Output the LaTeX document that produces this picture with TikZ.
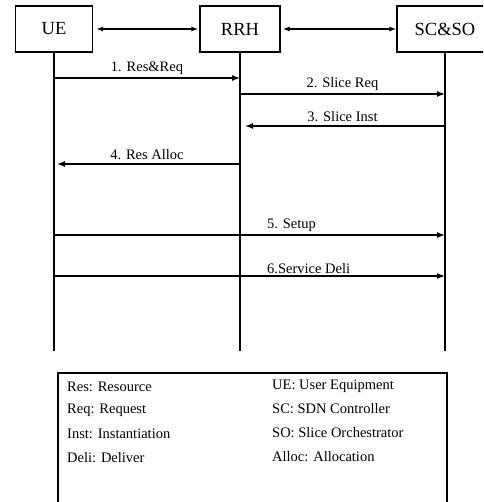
\documentclass[tikz,border=0pt]{standalone}
\usepackage{fontspec}
\setmainfont{Liberation Serif}
\usepackage{tikz}
\usetikzlibrary{arrows.meta, positioning}

\tikzset{
  entity/.style={draw, line width=1.1pt, minimum height=46pt, font=\fontsize{18.5}{20}\selectfont},
  lifeline/.style={line width=1.6pt},
  msg/.style={line width=1.4pt, -{Latex[length=8pt,width=6pt]}},
  link/.style={line width=1.4pt, {Latex[length=7pt,width=5pt]}-{Latex[length=7pt,width=5pt]}},
  lbl/.style={font=\fontsize{14.5}{16}\selectfont, inner sep=1pt},
}

\begin{document}
\begin{tikzpicture}[x=1pt, y=-1pt]
		\useasboundingbox (0,0) rectangle (483,502);
		\clip (0,0) rectangle (483,502);
		% Entidades
		\node[entity, minimum width=77pt] (ue) at (54,29) {UE};
		\node[entity, minimum width=80pt] (rrh) at (240,29) {RRH};
		\node[entity, minimum width=96pt] (scso) at (445,29) {SC\&SO};
		\draw[link, shorten <=3pt, shorten >=1pt] (ue.east) -- (rrh.west);
		\draw[link, shorten <=2pt] (rrh.east) -- (scso.west);
		% Lineas de vida
		\coordinate (fin) at (0,351);
		\draw[lifeline] (ue.south) -- (ue |- fin);
		\draw[lifeline] (rrh.south) -- (rrh |- fin);
		\draw[lifeline] (scso.south) -- (scso |- fin);
		% Mensajes
		\coordinate (m1) at (0,78);
		\coordinate (m2) at (0,94);
		\coordinate (m3) at (0,126);
		\coordinate (m4) at (0,164);
		\coordinate (m5) at (0,235);
		\coordinate (m6) at (0,276);
		\draw[msg] (ue |- m1) -- node[lbl, above=2pt] {1. Res\&Req} (rrh |- m1);
		\draw[msg] (rrh |- m2) -- node[lbl, above=2pt] {2. Slice Req} (scso |- m2);
		\draw[msg, shorten >=5pt] (scso |- m3) -- node[lbl, above=3pt] {3. Slice Inst} (rrh |- m3);
		\draw[msg, shorten >=3pt] (rrh |- m4) -- node[lbl, above=3pt] {4. Res Alloc} (ue |- m4);
		\draw[msg] (ue |- m5) -- (scso |- m5);
		\node[lbl, above right=2pt and 26pt] (t5) at (rrh |- m5) {5. Setup};
		\draw[msg] (ue |- m6) -- (scso |- m6);
		\node[lbl, above right=1pt and 26pt] (t6) at (rrh |- m6) {6.Service Deli};
		% Leyenda
		\draw[line width=1.4pt] (58,373) rectangle (447,520);
		\node[lbl, anchor=west] (res) at (66,387) {Res: Resource};
		\node[lbl, anchor=west] (req) at (66,410) {Req: Request};
		\node[lbl, anchor=west] (inst) at (66,434) {Inst: Instantiation};
		\node[lbl, anchor=west] (deli) at (66,458) {Deli: Deliver};
		\node[lbl, anchor=west] (ueq) at (271,386) {UE: User Equipment};
		\node[lbl, anchor=west] (sc) at (271,409) {SC: SDN Controller};
		\node[lbl, anchor=west] (so) at (271,433) {SO: Slice Orchestrator};
		\node[lbl, anchor=west] (alloc) at (271,457) {Alloc: Allocation};
	\end{tikzpicture}
\end{document}
